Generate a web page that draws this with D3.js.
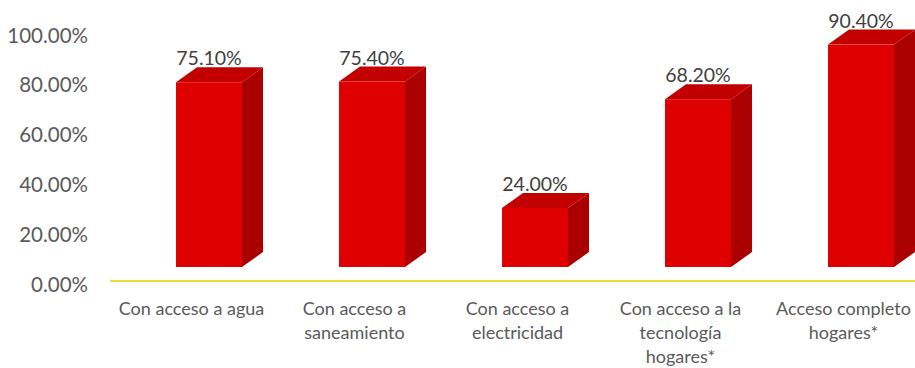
<!DOCTYPE html>
<html>
<head>
<meta charset="utf-8">
<script src="https://cdn.jsdelivr.net/npm/d3@7"></script>
<style>
  body { margin: 0; background: #fff; }
  svg { display: block; }
  text { font-family: Lato, "Open Sans", sans-serif; }
</style>
</head>
<body>
<svg id="chart" width="915" height="368"></svg>
<script>
// Household access indicators (share of households)
const categories = [
  "Con acceso a agua",
  "Con acceso a saneamiento",
  "Con acceso a electricidad",
  "Con acceso a la tecnología hogares*",
  "Acceso completo hogares*"
];
const categoryLines = [
  ["Con acceso a agua"],
  ["Con acceso a", "saneamiento"],
  ["Con acceso a", "electricidad"],
  ["Con acceso a la", "tecnología", "hogares*"],
  ["Acceso completo", "hogares*"]
];
const values = [0.751, 0.754, 0.24, 0.682, 0.904];
const tickValues = [0, 0.2, 0.4, 0.6, 0.8, 1.0];

const svg = d3.select("#chart");
const pct = d3.format(".2%");

// category bands along the floor
const x = d3.scaleBand().domain(categories).range([110, 925]).padding(0);
const bw = x.bandwidth();

// value axis drawn on the back wall
const yAxisScale = d3.scaleLinear().domain([0, 1]).range([284, 35]);
// front faces of the 3D columns sit slightly above the wall baseline
const yFront = d3.scaleLinear().domain([0, 1]).range([267, 21]);

// depth of the extruded columns
const depthX = 21, depthY = -15;

// value axis labels
const axis = d3.axisLeft(yAxisScale).tickValues(tickValues).tickFormat(pct).tickSize(0).tickPadding(0);
const gAxis = svg.append("g").attr("transform", "translate(88,0)").call(axis);
gAxis.select(".domain").remove();
gAxis.selectAll("text")
  .style("font-family", "Lato, 'Open Sans', sans-serif")
  .attr("font-size", 20.5)
  .attr("fill", "#5a5a5a")
  .attr("dy", "0.35em");

// floor line
svg.append("line")
  .attr("x1", x.range()[0]).attr("x2", 915)
  .attr("y1", yAxisScale(0) - 3).attr("y2", yAxisScale(0) - 3)
  .attr("stroke", "#e9df3a").attr("stroke-width", 2);

// columns
const bars = svg.append("g").selectAll("g").data(values).join("g");

bars.each(function (v, i) {
  const g = d3.select(this);
  const x0 = x(categories[i]) + bw * 0.405;
  const x1 = x0 + bw * 0.405;
  const yt = yFront(v);
  const yb = yFront(0);

  // side face
  g.append("path")
    .attr("d", `M${x1},${yt}L${x1 + depthX},${yt + depthY}L${x1 + depthX},${yb + depthY}L${x1},${yb}Z`)
    .attr("fill", "#aa0000");
  // top face
  g.append("path")
    .attr("d", `M${x0},${yt}L${x0 + depthX},${yt + depthY}L${x1 + depthX},${yt + depthY}L${x1},${yt}Z`)
    .attr("fill", "#c30000");
  // front face
  g.append("rect")
    .attr("x", x0).attr("y", yt)
    .attr("width", x1 - x0).attr("height", yb - yt)
    .attr("fill", "#df0000");

  // value label
  g.append("text")
    .attr("x", (x0 + x1) / 2)
    .attr("y", yt + depthY - 2)
    .attr("text-anchor", "middle")
    .attr("font-size", 19.5)
    .attr("fill", "#404040")
    .text(pct(v));
});

// category labels
const labels = svg.append("g").selectAll("text").data(categories).join("text")
  .attr("x", d => x(d) + bw / 2)
  .attr("y", 315)
  .attr("text-anchor", "middle")
  .attr("font-size", 18)
  .attr("fill", "#5a5a5a");

labels.each(function (d, i) {
  d3.select(this).selectAll("tspan").data(categoryLines[i]).join("tspan")
    .attr("x", x(d) + bw / 2)
    .attr("dy", (t, j) => j === 0 ? 0 : 24)
    .text(t => t);
});
</script>
</body>
</html>
